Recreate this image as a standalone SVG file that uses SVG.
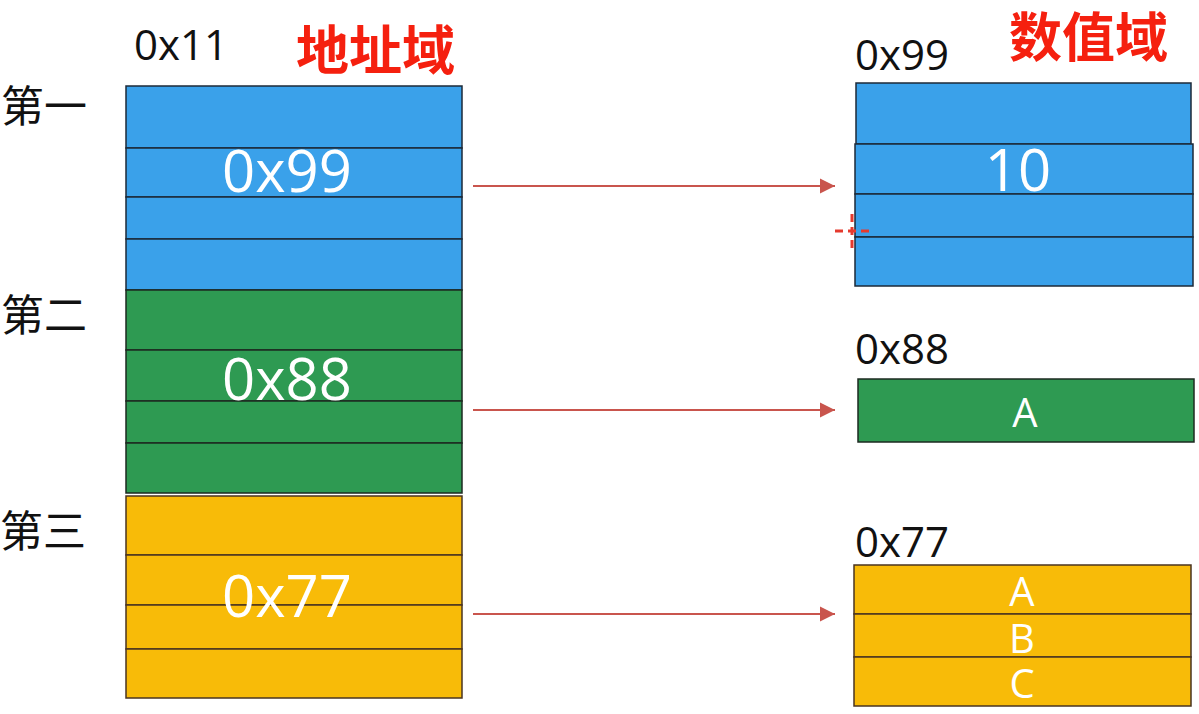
<svg xmlns="http://www.w3.org/2000/svg" width="1199" height="714" viewBox="0 0 1199 714">
<defs>
<style>
.lbl{font-family:"Open Sans","Noto Sans CJK SC",sans-serif;font-size:42px;fill:#111}
.cn{font-family:"Noto Sans CJK SC",sans-serif;font-size:43px;fill:#111}
.title{font-family:"Noto Sans CJK SC",sans-serif;font-size:53px;font-weight:bold;fill:#f5200f}
.big{font-family:"Open Sans",sans-serif;font-size:58px;fill:#fff;text-anchor:middle}
.mid{font-family:"Open Sans",sans-serif;font-size:40px;fill:#fff;text-anchor:middle}
.blue{fill:#3aa1ea;stroke:#1c2a38;stroke-width:1.5}
.green{fill:#2e9a52;stroke:#1c2a20;stroke-width:1.5}
.yellow{fill:#f8bb08;stroke:#4a3420;stroke-width:1.5}
.arr{stroke:#c9554d;stroke-width:2;fill:none;marker-end:url(#ah)}
.mark{stroke:#e53a2e;stroke-width:3;stroke-dasharray:8 5;fill:none}
</style>
<marker id="ah" markerWidth="16" markerHeight="16" refX="15" refY="7.5" orient="auto" markerUnits="userSpaceOnUse" viewBox="0 0 16 15">
<path d="M0,0 L15,7.5 L0,15 z" fill="#c9554d"/>
</marker>
</defs>
<rect width="1199" height="714" fill="#fff"/>

<g id="headers">
<text class="lbl" x="134" y="60">0x11</text>
<text class="title" x="296" y="70">地址域</text>
<text class="title" x="1009" y="57">数值域</text>
<text class="cn" x="1" y="122">第一</text>
<text class="cn" x="1" y="331">第二</text>
<text class="cn" x="0" y="547">第三</text>
</g>

<g id="addr-first">
<rect class="blue" x="126" y="86" width="336" height="62"/>
<rect class="blue" x="126" y="148" width="336" height="49"/>
<rect class="blue" x="126" y="197" width="336" height="42"/>
<rect class="blue" x="126" y="239" width="336" height="51"/>
<text class="big" x="287" y="192">0x99</text>
</g>

<g id="addr-second">
<rect class="green" x="126" y="290" width="336" height="60"/>
<rect class="green" x="126" y="350" width="336" height="51"/>
<rect class="green" x="126" y="401" width="336" height="42"/>
<rect class="green" x="126" y="443" width="336" height="50"/>
<text class="big" x="287" y="400">0x88</text>
</g>

<g id="addr-third">
<rect class="yellow" x="126" y="496" width="336" height="59"/>
<rect class="yellow" x="126" y="555" width="336" height="50"/>
<rect class="yellow" x="126" y="605" width="336" height="44"/>
<rect class="yellow" x="126" y="649" width="336" height="49"/>
<text class="big" x="287" y="617">0x77</text>
</g>

<g id="val-0x99">
<text class="lbl" x="855" y="70">0x99</text>
<rect class="blue" x="856" y="83" width="335" height="61"/>
<rect class="blue" x="855" y="144" width="338" height="50"/>
<rect class="blue" x="855" y="194" width="338" height="43"/>
<rect class="blue" x="855" y="237" width="338" height="49"/>
<text class="big" x="1018" y="191">10</text>
</g>

<g id="val-0x88">
<text class="lbl" x="855" y="364">0x88</text>
<rect class="green" x="858" y="379" width="336" height="63"/>
<text class="mid" x="1025" y="427">A</text>
</g>

<g id="val-0x77">
<text class="lbl" x="855" y="557">0x77</text>
<rect class="yellow" x="854" y="565" width="337" height="49"/>
<rect class="yellow" x="854" y="614" width="337" height="43"/>
<rect class="yellow" x="854" y="657" width="337" height="49"/>
<text class="mid" x="1022" y="606">A</text>
<text class="mid" x="1022" y="653">B</text>
<text class="mid" x="1022" y="698">C</text>
</g>

<g id="connectors">
<line class="arr" x1="473" y1="186" x2="835" y2="186"/>
<line class="arr" x1="473" y1="410" x2="835" y2="410"/>
<line class="arr" x1="473" y1="614" x2="835" y2="614"/>
</g>

<g id="cursor-mark">
<line class="mark" x1="852" y1="214" x2="852" y2="250"/>
<line class="mark" x1="835" y1="231" x2="870" y2="231"/>
</g>
</svg>
